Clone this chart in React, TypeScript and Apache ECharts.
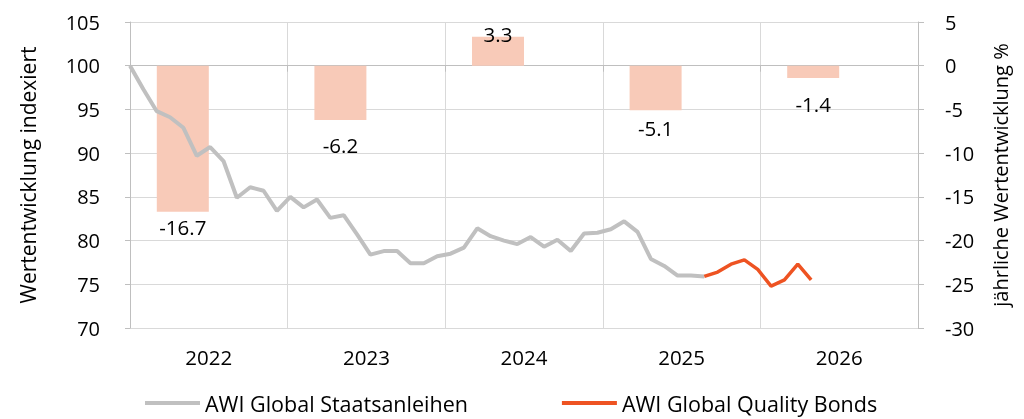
import React, { useEffect, useRef } from "react";
import * as echarts from "echarts";

const years = ["2022", "2023", "2024", "2025", "2026"];
const annualReturns = [-16.7, -6.2, 3.3, -5.1, -1.4];
// label distances (Excel-style label placement)
const labelDistances = [5, 15, -8, 7, 16];

const staatsanleihen = [
  100.0, 97.3, 94.8, 94.1, 92.9, 89.7, 90.7, 89.1, 84.9, 86.1, 85.7, 83.4,
  85.0, 83.8, 84.7, 82.6, 82.9, 80.7, 78.4, 78.8, 78.8, 77.4, 77.4, 78.2,
  78.5, 79.2, 81.4, 80.5, 80.0, 79.6, 80.4, 79.3, 80.1, 78.8, 80.8, 80.9,
  81.3, 82.2, 81.0, 77.9, 77.1, 76.0, 76.0, 75.9,
];
const qualityBondsStart = 43;
const qualityBonds = [75.9, 76.4, 77.3, 77.8, 76.7, 74.8, 75.5, 77.3, 75.5];
const monthCount = 60;

const leftTicks = { min: 70, max: 105, interval: 5 };
const rightTicks = { min: -30, max: 5, interval: 5 };

const FONT = "'Open Sans', sans-serif";

export default function App() {
  const ref = useRef<HTMLDivElement>(null);
  useEffect(() => {
    if (!ref.current) return;
    const chart = echarts.init(ref.current, undefined, { renderer: "svg" });

    const months: string[] = [];
    for (let i = 0; i < monthCount; i++) {
      const y = 2022 + Math.floor(i / 12);
      const m = (i % 12) + 1;
      months.push(`${y}-${m < 10 ? "0" + m : m}`);
    }
    const grayData: (number | null)[] = months.map((_, i) =>
      i < staatsanleihen.length ? staatsanleihen[i] : null
    );
    const orangeData: (number | null)[] = months.map((_, i) => {
      const k = i - qualityBondsStart;
      return k >= 0 && k < qualityBonds.length ? qualityBonds[k] : null;
    });

    const barData = annualReturns.map((v, i) => ({
      value: v,
      label: {
        position: v >= 0 ? "top" : "bottom",
        distance: labelDistances[i],
      },
    }));

    const gridLine = "#D9D9D9";
    const axisGray = "#BFBFBF";

    chart.setOption({
      animation: false,
      textStyle: { fontFamily: FONT },
      grid: { left: 130, right: 106, top: 22, bottom: 91, containLabel: false },
      legend: {
        data: ["AWI Global Staatsanleihen", "AWI Global Quality Bonds"],
        top: 386,
        left: 140,
        icon: "rect",
        itemWidth: 55,
        itemHeight: 4,
        itemGap: 94,
        textStyle: { fontSize: 21.5, color: "#000", fontFamily: FONT, lineHeight: 24 },
      },
      xAxis: [
        {
          type: "category",
          data: years,
          boundaryGap: true,
          axisLine: { show: true, lineStyle: { color: axisGray, width: 1 } },
          axisTick: { show: true, length: 6, lineStyle: { color: axisGray } },
          axisLabel: { color: "#000", fontSize: 20.5, margin: 18, fontFamily: FONT },
          splitLine: { show: true, lineStyle: { color: gridLine, width: 1 } },
        },
        {
          type: "category",
          data: months,
          boundaryGap: false,
          show: false,
        },
      ],
      yAxis: [
        {
          type: "value",
          position: "left",
          min: leftTicks.min,
          max: leftTicks.max,
          interval: leftTicks.interval,
          name: "Wertentwicklung indexiert",
          nameLocation: "middle",
          nameGap: 92,
          nameTextStyle: { color: "#000", fontSize: 21, fontFamily: FONT },
          axisLine: { show: true, lineStyle: { color: axisGray } },
          axisTick: { show: true, length: 5, lineStyle: { color: axisGray } },
          axisLabel: { color: "#000", fontSize: 20, margin: 30, fontFamily: FONT },
          splitLine: { show: true, lineStyle: { color: gridLine } },
        },
        {
          type: "value",
          position: "right",
          min: rightTicks.min,
          max: rightTicks.max,
          interval: rightTicks.interval,
          name: "jährliche Wertentwicklung %",
          nameLocation: "middle",
          nameGap: 72,
          nameTextStyle: { color: "#000", fontSize: 20, fontFamily: FONT },
          axisLine: { show: true, lineStyle: { color: axisGray } },
          axisTick: { show: true, length: 6, lineStyle: { color: axisGray } },
          axisLabel: { color: "#000", fontSize: 20, margin: 27, fontFamily: FONT },
          splitLine: { show: false },
        },
      ],
      series: [
        {
          name: "Jährliche Wertentwicklung",
          type: "bar",
          xAxisIndex: 0,
          yAxisIndex: 1,
          data: barData,
          barWidth: 52,
          barGap: "0%",
          itemStyle: { color: "#F8CAB8" },
          label: {
            show: true,
            color: "#000",
            fontSize: 20.5,
            fontFamily: FONT,
            formatter: (p: any) => String(p.value),
          },
        },
        {
          name: "leer",
          type: "bar",
          xAxisIndex: 0,
          yAxisIndex: 1,
          data: years.map(() => null),
          barWidth: 52,
          barGap: "0%",
        },
        {
          name: "AWI Global Staatsanleihen",
          type: "line",
          xAxisIndex: 1,
          yAxisIndex: 0,
          data: grayData,
          symbol: "none",
          lineStyle: { color: "#C0C0C0", width: 4 },
          itemStyle: { color: "#C0C0C0" },
          z: 3,
        },
        {
          name: "AWI Global Quality Bonds",
          type: "line",
          xAxisIndex: 1,
          yAxisIndex: 0,
          data: orangeData,
          symbol: "none",
          lineStyle: { color: "#EE5322", width: 3.5 },
          itemStyle: { color: "#EE5322" },
          z: 4,
        },
      ],
    });
    return () => chart.dispose();
  }, []);

  return (
    <div
      ref={ref}
      style={{ position: "fixed", left: 0, top: 0, width: 1024, height: 419 }}
    />
  );
}
